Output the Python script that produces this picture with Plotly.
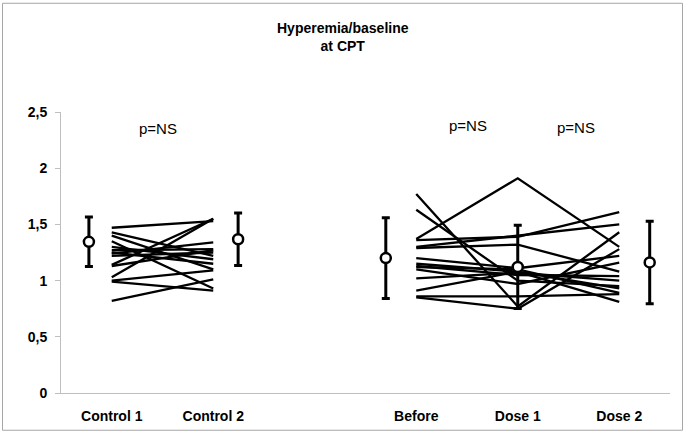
import plotly.graph_objects as go

# ---------------- data ----------------
categories = ["Control 1", "Control 2", "", "Before", "Dose 1", "Dose 2"]
y_ticks = [0, 0.5, 1, 1.5, 2, 2.5]
y_tick_labels = ["0", "0,5", "1", "1,5", "2", "2,5"]

# individual subjects, control period (Control 1 -> Control 2)
control1 = [1.47, 1.43, 1.40, 1.35, 1.30, 1.27, 1.25, 1.24, 1.22, 1.14, 1.13, 1.03, 1.00, 0.99, 0.82]
control2 = [1.53, 1.22, 1.10, 0.93, 1.19, 1.28, 1.15, 1.34, 1.25, 1.55, 1.27, 1.55, 1.09, 0.91, 1.01]

# individual subjects, drug period (Before -> Dose 1 -> Dose 2)
before = [1.77, 1.63, 1.37, 1.36, 1.30, 1.29, 1.20, 1.15, 1.13, 1.12, 1.10, 1.02, 0.91, 0.86, 0.85]
dose1 = [0.77, 1.00, 1.91, 1.39, 1.40, 1.32, 1.11, 1.08, 1.05, 1.10, 0.97, 1.07, 1.08, 0.86, 0.75]
dose2 = [1.43, 0.95, 1.30, 1.61, 1.50, 1.08, 1.22, 0.81, 1.04, 0.89, 1.16, 1.00, 0.93, 0.88, 1.28]

# group mean and SD per condition
summary_cats = ["Control 1", "Control 2", "Before", "Dose 1", "Dose 2"]
summary_mean = [1.345, 1.368, 1.200, 1.122, 1.162]
summary_sd = [0.220, 0.234, 0.360, 0.370, 0.367]

p_labels = ["p=NS", "p=NS", "p=NS"]

# ---------------- styling / positions ----------------
pos = {c: i for i, c in enumerate(categories) if c}
mean_offset = {"Control 1": -0.225, "Control 2": 0.245, "Before": -0.30, "Dose 1": 0.0, "Dose 2": 0.30}
p_pos = [(0.46, 2.355), (3.51, 2.38), (4.57, 2.365)]

FONT = "Liberation Sans, Arial, sans-serif"

fig = go.Figure()

for a, b in zip(control1, control2):
    fig.add_trace(go.Scatter(
        x=[pos["Control 1"], pos["Control 2"]], y=[a, b],
        mode="lines", line=dict(color="black", width=2.3), showlegend=False, hoverinfo="skip"))

for a, b, c in zip(before, dose1, dose2):
    fig.add_trace(go.Scatter(
        x=[pos["Before"], pos["Dose 1"], pos["Dose 2"]], y=[a, b, c],
        mode="lines", line=dict(color="black", width=2.3), showlegend=False, hoverinfo="skip"))

fig.add_trace(go.Scatter(
    x=[pos[c] + mean_offset[c] for c in summary_cats],
    y=summary_mean,
    mode="markers",
    marker=dict(symbol="circle", size=10, color="white", line=dict(color="black", width=2.5)),
    error_y=dict(type="data", array=summary_sd, visible=True, color="black", thickness=3, width=4),
    showlegend=False))

for (px, py), txt in zip(p_pos, p_labels):
    fig.add_annotation(x=px, y=py, text=txt, showarrow=False,
                       font=dict(family=FONT, size=15, color="black"))

fig.add_annotation(xref="paper", yref="paper", x=(343 - 61) / 609, y=(395 - 17) / 283,
                   xanchor="center", yanchor="top", showarrow=False,
                   text="<b>Hyperemia/baseline</b><br><b>at CPT</b>",
                   font=dict(family=FONT, size=14, color="black"))

# outer frame around the whole chart
fig.add_shape(type="rect", xref="paper", yref="paper",
              x0=(2.5 - 61) / 609, x1=(682.5 - 61) / 609,
              y0=(395 - 432.5) / 283, y1=(395 - 2.5) / 283,
              line=dict(color="#a6a6a6", width=1), fillcolor="rgba(0,0,0,0)")

fig.update_layout(
    width=685, height=436,
    margin=dict(l=61, r=15, t=112, b=41),
    paper_bgcolor="white", plot_bgcolor="white",
    font=dict(family=FONT, color="black"),
    xaxis=dict(
        range=[-0.5, 5.5], showgrid=False, zeroline=False,
        tickmode="array", tickvals=list(range(len(categories))),
        ticktext=[f"<b>{c}</b>" if c else "" for c in categories],
        tickfont=dict(family=FONT, size=14, color="black"),
        showline=True, linecolor="#bfbfbf", linewidth=1, ticks="",
        ticklabelstandoff=10),
    yaxis=dict(
        range=[0, 2.5], showgrid=False, zeroline=False,
        tickmode="array", tickvals=y_ticks,
        ticktext=[f"<b>{t}</b>" for t in y_tick_labels],
        tickfont=dict(family=FONT, size=14, color="black"),
        showline=True, linecolor="#bfbfbf", linewidth=1,
        ticks="outside", ticklen=5, tickcolor="#bfbfbf", ticklabelstandoff=5),
)

fig.write_html("out.html", config={"displayModeBar": False},
               post_script="document.body.style.margin='0px';")
